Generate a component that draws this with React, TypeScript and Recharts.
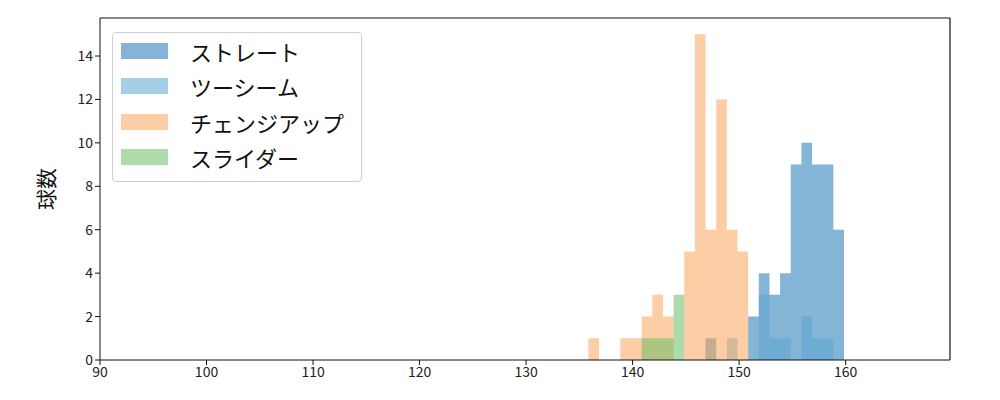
import React from 'react';
import {
  ComposedChart,
  Area,
  XAxis,
  YAxis,
  Legend,
  ReferenceLine
} from 'recharts';

// left edges of the 1-km/h bins (last value closes the final bin)
const binEdges = [
  135.85, 136.85, 137.85, 138.85, 139.85, 140.85, 141.85, 142.85, 143.85, 144.85,
  145.85, 146.85, 147.85, 148.85, 149.85, 150.85, 151.85, 152.85, 153.85, 154.85,
  155.85, 156.85, 157.85, 158.85, 159.85
];

// counts per bin, one per left edge (the closing edge gets 0)
const straight = [0, 0, 0, 0, 0, 0, 0, 0, 0, 0, 0, 1, 0, 0, 0, 2, 4, 3, 4, 9, 10, 9, 9, 6];
const twoSeam = [0, 0, 0, 0, 0, 0, 0, 0, 0, 0, 0, 0, 0, 1, 0, 0, 3, 1, 1, 0, 2, 1, 1, 0];
const changeUp = [1, 0, 0, 1, 1, 2, 3, 2, 0, 5, 15, 6, 12, 6, 5, 0, 0, 0, 0, 0, 0, 0, 0, 0];
const slider = [0, 0, 0, 0, 0, 1, 1, 1, 3, 0, 0, 0, 0, 0, 0, 0, 0, 0, 0, 0, 0, 0, 0, 0];

const xTicks = [90, 100, 110, 120, 130, 140, 150, 160];
const yTicks = [0, 2, 4, 6, 8, 10, 12, 14];
const xDomain = [90, 169.8];
const yDomain = [0, 15.75];

const series = [
  { key: 'straight', name: 'ストレート', color: '#1f77b4' },
  { key: 'twoSeam', name: 'ツーシーム', color: '#5da6d2' },
  { key: 'changeUp', name: 'チェンジアップ', color: '#fba65d' },
  { key: 'slider', name: 'スライダー', color: '#6abe66' }
];

const FONT = '"Noto Sans CJK JP", "DejaVu Sans", sans-serif';
const OPACITY = 0.55;

const data = binEdges.map((edge, i) => ({
  edge,
  straight: straight[i] ?? 0,
  twoSeam: twoSeam[i] ?? 0,
  changeUp: changeUp[i] ?? 0,
  slider: slider[i] ?? 0
}));

const PitchLegend = () => (
  <div
    style={{
      width: 250,
      height: 150,
      boxSizing: 'border-box',
      background: 'rgba(255,255,255,0.8)',
      border: '1px solid #d0d0d0',
      borderRadius: 4,
      padding: '0 0 0 8px',
      fontFamily: FONT
    }}
  >
    {series.map(s => (
      <div key={s.key} style={{ display: 'flex', alignItems: 'center', height: 35.5 }}>
        <span
          style={{
            display: 'inline-block',
            width: 47,
            height: 16,
            background: s.color,
            opacity: OPACITY
          }}
        />
        <span style={{ marginLeft: 22, fontSize: 22, color: '#111' }}>{s.name}</span>
      </div>
    ))}
  </div>
);

const tickStyle = { fontSize: 14, fill: '#222', fontFamily: FONT };

export default function App() {
  return (
    <div style={{ position: 'absolute', left: 0, top: 0, background: '#fff' }}>
      <ComposedChart
        width={1000}
        height={400}
        data={data}
        margin={{ top: 18, right: 50, bottom: 0, left: 0 }}
      >
        <XAxis
          dataKey="edge"
          type="number"
          domain={xDomain}
          ticks={xTicks}
          allowDataOverflow
          height={40}
          tick={tickStyle}
          tickSize={5}
          stroke="#111"
          tickLine={{ stroke: '#111' }}
        />
        <YAxis
          domain={yDomain}
          ticks={yTicks}
          allowDataOverflow
          width={100}
          tick={tickStyle}
          tickSize={5}
          stroke="#111"
          label={{
            value: '球数',
            angle: -90,
            position: 'insideLeft',
            offset: 47,
            style: { fontSize: 21, fill: '#111', fontFamily: FONT, textAnchor: 'middle' }
          }}
        />
        {series.map(s => (
          <Area
            key={s.key}
            dataKey={s.key}
            name={s.name}
            type="stepAfter"
            fill={s.color}
            fillOpacity={OPACITY}
            stroke="none"
            dot={false}
            activeDot={false}
            isAnimationActive={false}
          />
        ))}
        {/* top and right spines */}
        <ReferenceLine y={yDomain[1]} stroke="#111" strokeWidth={1.2} />
        <ReferenceLine x={xDomain[1]} stroke="#111" strokeWidth={1.2} />
        <Legend
          layout="horizontal"
          verticalAlign="middle"
          align="center"
          wrapperStyle={{ left: 112, top: 32, width: 250 }}
          content={<PitchLegend />}
        />
      </ComposedChart>
    </div>
  );
}
